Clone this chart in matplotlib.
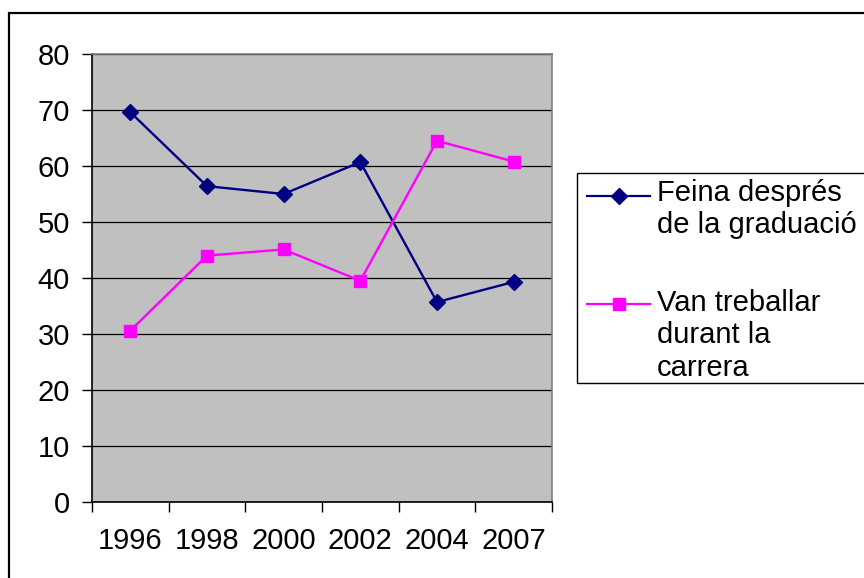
import matplotlib
matplotlib.use("Agg")
import matplotlib.pyplot as plt
from matplotlib.lines import Line2D
from matplotlib.patches import Rectangle
import numpy as np

years = ["1996", "1998", "2000", "2002", "2004", "2007"]
feina = [69.6, 56.4, 55.0, 60.7, 35.7, 39.3]
treballar = [30.6, 44.0, 45.1, 39.5, 64.5, 60.8]
label_feina = "Feina després\nde la graduació"
label_treb = "Van treballar\ndurant la\ncarrera"

plt.rcParams['font.family'] = ['Liberation Sans', 'DejaVu Sans']
FS = 21

W, H = 864, 578
fig = plt.figure(figsize=(W / 100, H / 100), dpi=100)

def fx(px):
    return px / W

def fy(py):
    return 1 - py / H

# outer border
fig.patches.append(Rectangle((fx(8.5), fy(900)), fx(1000), fy(12.5) - fy(900),
                             transform=fig.transFigure, fill=False,
                             edgecolor='black', linewidth=1.6))

ax = fig.add_axes([fx(92), fy(502), fx(552) - fx(92), fy(54) - fy(502)])
ax.set_facecolor('#C0C0C0')

x = np.arange(len(years))
ax.set_xlim(-0.5, len(years) - 0.5)
ax.set_ylim(0, 80)

ax.set_yticks(np.arange(0, 81, 10))
ax.yaxis.grid(True, color='black', linewidth=0.9)
ax.set_axisbelow(True)

ax.plot(x, feina, color='#000080', linewidth=1.7, marker='D', markersize=8,
        markerfacecolor='#000080', markeredgecolor='#000080', zorder=3)
ax.plot(x, treballar, color='#FF00FF', linewidth=1.7, marker='s', markersize=8.5,
        markerfacecolor='#FF00FF', markeredgecolor='#FF00FF', zorder=3)

# category boundaries ticks, labels at centers
ax.set_xticks(np.arange(-0.5, len(years), 1.0))
ax.set_xticklabels([])
ax.set_xticks(x, minor=True)
ax.set_xticklabels(years, minor=True, fontsize=FS)
ax.tick_params(axis='x', which='major', direction='out', length=7, width=1, color='black')
ax.tick_params(axis='x', which='minor', length=0, pad=18)
ax.tick_params(axis='y', direction='out', length=7, width=1, pad=9, labelsize=FS)

for s in ['left', 'bottom']:
    ax.spines[s].set_color('black')
    ax.spines[s].set_linewidth(1.2)
for s in ['top', 'right']:
    ax.spines[s].set_color('#808080')
    ax.spines[s].set_linewidth(1.2)

# legend (manual layout)
fig.patches.append(Rectangle((fx(577), fy(383)), fx(400), fy(172.5) - fy(383),
                             transform=fig.transFigure, fill=True, facecolor='white',
                             edgecolor='black', linewidth=1.0))
entries = [(label_feina, '#000080', 'D', 8, 196, 179),
           (label_treb, '#FF00FF', 's', 8.5, 304, 289)]
for lab, col, mk, ms, ypx, ytxt in entries:
    fig.add_artist(Line2D([fx(587), fx(650)], [fy(ypx), fy(ypx)], color=col,
                          linewidth=1.6, transform=fig.transFigure))
    fig.add_artist(Line2D([fx(618.5)], [fy(ypx)], color=col, marker=mk, markersize=ms,
                          markerfacecolor=col, markeredgecolor=col,
                          transform=fig.transFigure))
    fig.text(fx(657), fy(ytxt), lab, fontsize=FS, va='top', ha='left',
             linespacing=1.2)

fig.savefig('out.png', dpi=100)
